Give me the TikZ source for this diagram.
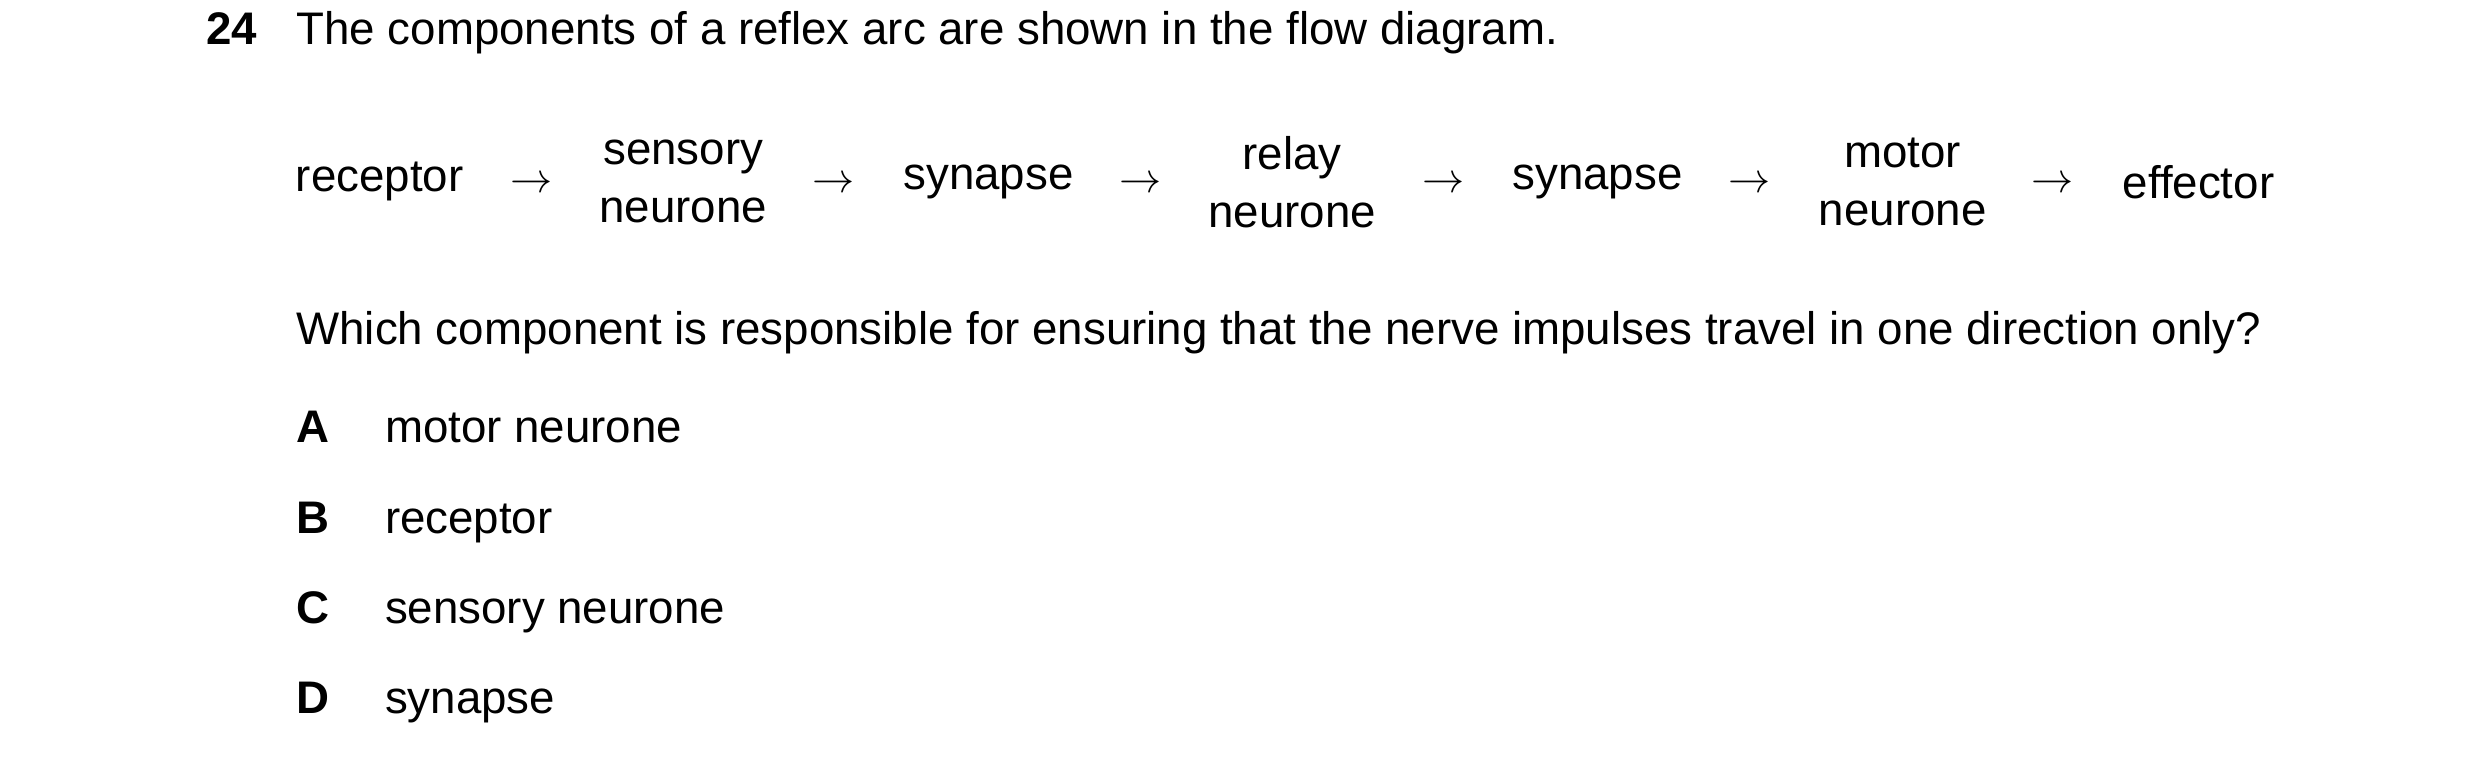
\documentclass[tikz,border=0pt]{standalone}
\usepackage{fontspec}
\setmainfont{Liberation Sans}
\begin{document}
\begin{tikzpicture}[x=0.01582cm,y=-0.01582cm,
  txt/.style={inner sep=0pt,font=\fontsize{13}{16}\selectfont,anchor=base west},
  item/.style={inner sep=0pt,font=\fontsize{13}{16.5}\selectfont,align=center},
  arr/.style={inner sep=0pt,font=\fontsize{13}{16}\selectfont}]
\useasboundingbox (0,0) rectangle (1568,483);
\node[txt,font=\fontsize{13}{16}\selectfont\bfseries] (num) at (130,28) {24};
\node[txt] (title) at (187,28) {The components of a reflex arc are shown in the flow diagram.};
\node[item] (n1) at (240,115) {receptor};
\node[arr] (a1) at (336,117) {$\rightarrow$};
\node[item] (n2) at (432,115) {sensory\\neurone};
\node[arr] (a2) at (527,117) {$\rightarrow$};
\node[item] (n3) at (625,115) {synapse};
\node[arr] (a3) at (721,117) {$\rightarrow$};
\node[item] (n4) at (817,115) {relay\\neurone};
\node[arr] (a4) at (913,117) {$\rightarrow$};
\node[item] (n5) at (1010,115) {synapse};
\node[arr] (a5) at (1106,117) {$\rightarrow$};
\node[item] (n6) at (1203,115) {motor\\neurone};
\node[arr] (a6) at (1298,117) {$\rightarrow$};
\node[item] (n7) at (1390,115) {effector};
\node[txt] (q) at (187,218) {Which component is responsible for ensuring that the nerve impulses travel in one direction only?};
\foreach \L/\T/\Y [count=\i] in {A/motor neurone/280, B/receptor/337, C/sensory neurone/394, D/synapse/451}{
  \node[txt,font=\fontsize{13}{16}\selectfont\bfseries] (l\i) at (187,\Y) {\L};
  \node[txt] (o\i) at (243,\Y) {\T};
}
\end{tikzpicture}
\end{document}
